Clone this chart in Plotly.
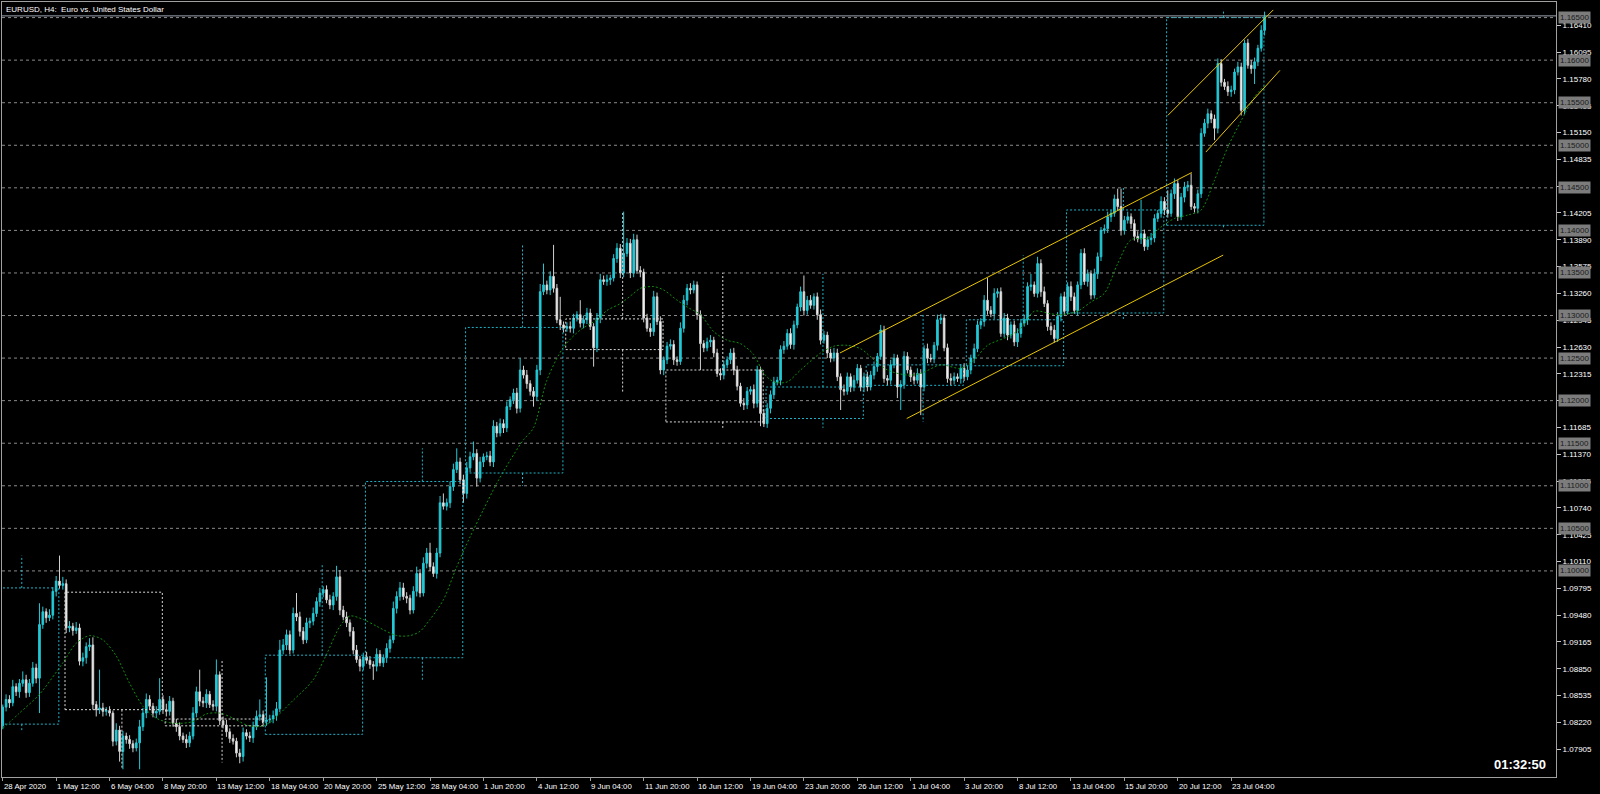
import plotly.graph_objects as go

# ---------------- DATA (prices in pips, i.e. price * 10000) ----------------
first_open_pips = 10818
closes_pips = [
    10840, 10849, 10845, 10864, 10858, 10868, 10872, 10857, 10868, 10886,
    10874, 10937, 10952, 10945, 10948, 10976, 10988, 10983, 10985, 10933,
    10935, 10930, 10933, 10894, 10898, 10911, 10913, 10843, 10837, 10839,
    10835, 10836, 10833, 10800, 10813, 10788, 10806, 10802, 10797, 10792,
    10798, 10817, 10833, 10849, 10841, 10833, 10835, 10849, 10837, 10835,
    10847, 10821, 10817, 10806, 10802, 10798, 10806, 10833, 10858, 10847,
    10845, 10855, 10843, 10841, 10878, 10824, 10819, 10811, 10803, 10800,
    10786, 10782, 10810, 10806, 10804, 10817, 10829, 10831, 10823, 10825,
    10826, 10830, 10838, 10907, 10913, 10925, 10907, 10950, 10946, 10929,
    10919, 10939, 10941, 10950, 10964, 10974, 10978, 10966, 10960, 10970,
    10993, 10954, 10946, 10939, 10929, 10907, 10896, 10888, 10899, 10895,
    10890, 10888, 10902, 10892, 10898, 10909, 10919, 10956, 10970, 10980,
    10970, 10968, 10954, 10976, 10997, 10974, 11009, 11021, 11005, 10997,
    11021, 11080, 11076, 11080, 11099, 11119, 11128, 11107, 11091, 11121,
    11134, 11138, 11109, 11128, 11134, 11135, 11128, 11170, 11162, 11173,
    11168, 11193, 11201, 11209, 11191, 11236, 11230, 11220, 11211, 11205,
    11236, 11328, 11336, 11330, 11346, 11332, 11295, 11289, 11285, 11287,
    11285, 11297, 11301, 11291, 11295, 11303, 11287, 11262, 11297, 11342,
    11340, 11342, 11344, 11367, 11379, 11350, 11373, 11385, 11350, 11389,
    11353, 11351, 11297, 11285, 11281, 11322, 11293, 11236, 11248, 11264,
    11266, 11248, 11246, 11285, 11318, 11332, 11330, 11336, 11301, 11267,
    11262, 11269, 11271, 11256, 11232, 11230, 11242, 11248, 11256, 11236,
    11217, 11197, 11195, 11211, 11213, 11197, 11236, 11185, 11173, 11191,
    11207, 11222, 11224, 11260, 11264, 11279, 11266, 11289, 11310, 11328,
    11306, 11318, 11312, 11322, 11301, 11271, 11277, 11256, 11250, 11256,
    11228, 11213, 11211, 11228, 11216, 11224, 11238, 11216, 11228, 11216,
    11230, 11240, 11252, 11283, 11226, 11224, 11242, 11250, 11216, 11219,
    11252, 11236, 11228, 11224, 11232, 11216, 11261, 11250, 11249, 11265,
    11295, 11297, 11262, 11226, 11224, 11228, 11226, 11238, 11228, 11236,
    11250, 11261, 11289, 11293, 11318, 11306, 11302, 11326, 11328, 11279,
    11297, 11277, 11289, 11269, 11279, 11291, 11295, 11334, 11336, 11326,
    11361, 11328, 11314, 11287, 11283, 11273, 11299, 11322, 11305, 11334,
    11322, 11306, 11336, 11373, 11340, 11349, 11324, 11349, 11369, 11400,
    11402, 11416, 11420, 11437, 11428, 11400, 11412, 11416, 11408, 11393,
    11390, 11396, 11381, 11389, 11391, 11414, 11420, 11434, 11424, 11420,
    11443, 11455, 11416, 11439, 11451, 11453, 11428, 11426, 11443, 11514,
    11526, 11537, 11531, 11520, 11596, 11574, 11569, 11563, 11565, 11586,
    11592, 11541, 11620, 11594, 11590, 11598, 11614, 11635, 11651,
]
upper_wick_pips = [
    3, 6, 5, 8, 4, 5, 10, 6, 5, 7,
    5, 25, 6, 4, 7, 5, 6, 30, 8, 5,
    6, 4, 7, 5, 6, 5, 8, 9, 4, 45,
    6, 4, 5, 3, 8, 5, 6, 4, 5, 4,
    5, 8, 6, 7, 5, 4, 6, 25, 5, 7,
    6, 4, 5, 5, 4, 6, 5, 7, 6, 26,
    5, 6, 4, 5, 18, 4, 5, 6, 4, 5,
    4, 5, 6, 4, 5, 6, 7, 18, 5, 50,
    5, 6, 8, 12, 7, 6, 5, 7, 24, 6,
    5, 6, 4, 7, 5, 6, 4, 5, 6, 5,
    13, 8, 5, 6, 4, 5, 6, 4, 5, 6,
    5, 4, 7, 5, 4, 6, 5, 8, 6, 7,
    6, 5, 4, 6, 8, 5, 7, 6, 12, 5,
    6, 8, 11, 5, 6, 7, 16, 5, 6, 7,
    6, 14, 5, 6, 4, 5, 6, 7, 5, 6,
    5, 6, 4, 5, 6, 14, 5, 6, 4, 5,
    6, 9, 25, 5, 6, 37, 5, 27, 4, 5,
    6, 5, 4, 17, 5, 6, 5, 4, 6, 7,
    5, 6, 4, 5, 6, 5, 49, 6, 5, 7,
    6, 5, 4, 5, 6, 7, 5, 6, 4, 5,
    6, 5, 4, 7, 6, 5, 6, 5, 4, 5,
    4, 5, 6, 4, 5, 6, 5, 4, 5, 6,
    5, 4, 6, 5, 4, 6, 5, 4, 5, 6,
    5, 6, 4, 5, 6, 5, 6, 5, 4, 6,
    19, 5, 6, 4, 5, 6, 5, 4, 5, 6,
    5, 4, 6, 5, 4, 6, 5, 4, 5, 6,
    5, 6, 4, 6, 5, 4, 6, 5, 4, 5,
    6, 5, 4, 5, 6, 5, 4, 6, 5, 4,
    6, 5, 4, 5, 6, 5, 4, 5, 6, 5,
    4, 6, 5, 4, 6, 26, 5, 6, 4, 5,
    6, 5, 4, 5, 6, 5, 6, 5, 13, 4,
    8, 5, 6, 4, 5, 6, 5, 4, 6, 5,
    6, 5, 4, 5, 6, 5, 4, 6, 5, 4,
    5, 6, 4, 5, 12, 21, 5, 6, 4, 5,
    6, 40, 5, 4, 6, 5, 4, 6, 5, 23,
    5, 6, 4, 5, 6, 5, 14, 4, 5, 6,
    5, 6, 4, 5, 6, 5, 4, 6, 5, 4,
    6, 5, 4, 5, 6, 5, 4, 6, 6,
]
lower_wick_pips = [
    4, 5, 6, 4, 5, 7, 4, 6, 5, 4,
    6, 41, 5, 6, 4, 5, 6, 4, 5, 6,
    5, 6, 4, 5, 6, 7, 5, 6, 8, 5,
    6, 5, 4, 6, 5, 12, 21, 5, 6, 5,
    4, 31, 5, 6, 4, 5, 6, 4, 5, 6,
    5, 4, 6, 5, 4, 6, 5, 4, 5, 6,
    5, 6, 4, 5, 6, 5, 4, 6, 5, 4,
    5, 8, 6, 4, 5, 6, 4, 5, 6, 5,
    4, 5, 6, 4, 5, 6, 5, 4, 5, 6,
    5, 4, 6, 5, 4, 6, 5, 4, 5, 6,
    5, 6, 4, 5, 6, 5, 4, 6, 5, 4,
    5, 16, 6, 4, 5, 6, 5, 4, 6, 5,
    4, 6, 5, 4, 6, 5, 4, 6, 5, 4,
    6, 5, 4, 5, 6, 5, 4, 5, 11, 6,
    5, 4, 10, 5, 6, 4, 5, 6, 5, 4,
    6, 5, 4, 5, 6, 5, 4, 6, 5, 12,
    5, 6, 4, 5, 6, 5, 4, 6, 5, 4,
    5, 6, 4, 5, 6, 5, 4, 22, 5, 6,
    4, 5, 6, 4, 5, 6, 5, 4, 6, 5,
    4, 6, 5, 4, 6, 5, 4, 5, 6, 5,
    4, 6, 5, 4, 5, 6, 5, 4, 6, 31,
    5, 4, 6, 5, 4, 6, 5, 4, 5, 6,
    5, 4, 6, 5, 4, 6, 5, 15, 4, 5,
    6, 5, 4, 6, 5, 4, 5, 6, 4, 5,
    6, 5, 4, 5, 6, 5, 4, 6, 5, 4,
    5, 24, 5, 4, 6, 5, 4, 5, 6, 5,
    4, 5, 6, 4, 5, 6, 5, 4, 13, 27,
    5, 4, 6, 5, 4, 33, 5, 6, 4, 5,
    6, 5, 4, 5, 6, 5, 4, 6, 5, 4,
    5, 6, 4, 5, 6, 5, 4, 6, 5, 4,
    5, 6, 4, 5, 6, 5, 4, 6, 5, 4,
    5, 6, 4, 5, 6, 5, 4, 6, 5, 4,
    5, 4, 6, 5, 4, 6, 5, 4, 6, 5,
    4, 5, 6, 4, 5, 6, 5, 4, 6, 5,
    4, 6, 5, 4, 6, 5, 4, 5, 6, 5,
    4, 6, 5, 4, 6, 5, 4, 5, 6, 5,
    4, 6, 5, 14, 6, 5, 4, 5, 6, 5,
    4, 6, 5, 4, 6, 18, 5, 4, 6,
]

# moving average (read at sample bars)
ma_bar = [0, 5, 11, 18, 22, 26, 30, 34, 38, 42, 46, 51, 57, 61, 65, 69, 73, 77, 80, 87,
          93, 97, 101, 104, 108, 112, 118, 122, 125, 128, 132, 136, 140, 144, 148, 152, 156, 159, 163, 168,
          173, 178, 181, 185, 189, 191, 195, 198, 202, 205, 209, 213, 217, 221, 225, 228, 231, 235, 239, 245,
          249, 253, 257, 261, 265, 271, 275, 281, 287, 291, 295, 301, 305, 309, 314, 317, 322, 326, 330, 334,
          338, 343, 347, 351, 355, 359, 363, 367, 371, 375, 378]
ma_pips = [10815, 10833, 10855, 10892, 10915, 10924, 10919, 10900, 10868, 10841, 10827, 10821, 10823, 10832, 10833, 10827, 10819, 10817, 10822, 10848,
           10872, 10902, 10935, 10947, 10943, 10935, 10924, 10924, 10929, 10943, 10966, 11005, 11040, 11072, 11103, 11130, 11154, 11168, 11224, 11263,
           11283, 11295, 11306, 11314, 11326, 11332, 11334, 11330, 11318, 11310, 11301, 11281, 11271, 11267, 11254, 11232, 11222, 11222, 11236, 11256,
           11264, 11265, 11261, 11248, 11236, 11230, 11232, 11242, 11238, 11248, 11265, 11275, 11285, 11305, 11302, 11301, 11305, 11316, 11326, 11361,
           11389, 11391, 11404, 11414, 11418, 11424, 11459, 11498, 11529, 11557, 11570]

# weekly (higher time-frame) candles drawn as dotted boxes
week_first_bar = [-11, 19, 49, 79, 109, 139, 169, 199, 229, 259, 289, 319, 349]
week_last_bar = [17, 48, 78, 108, 138, 168, 198, 228, 258, 288, 318, 348, 378]
week_open = [10820, 10975, 10826, 10808, 10898, 11115, 11296, 11236, 11179, 11218, 11241, 11303, 11406]
week_close = [10980, 10837, 10818, 10901, 11105, 11286, 11260, 11175, 11216, 11242, 11295, 11424, 11650]
week_high = [11018, 10975, 10896, 11007, 11144, 11383, 11422, 11350, 11349, 11301, 11371, 11450, 11657]
week_low = [10811, 10767, 10775, 10808, 10870, 11100, 11210, 11168, 11168, 11175, 11241, 11295, 11403]

# trend channel lines: (bar0, price0, bar1, price1)
channel_bar0 = [250.8, 270.8, 349.0, 360.4]
channel_p0 = [11256, 11179, 11535, 11492]
channel_bar1 = [356.2, 365.6, 380.6, 382.6]
channel_p1 = [11468, 11371, 11659, 11588]

level_prices = [1.10000, 1.10500, 1.11000, 1.11500, 1.12000, 1.12500, 1.13000,
                1.13500, 1.14000, 1.14500, 1.15000, 1.15500, 1.16000, 1.16500]
bid_price = 1.16520

y_ticks = [1.07905, 1.08220, 1.08535, 1.08850, 1.09165, 1.09480, 1.09795, 1.10110,
           1.10425, 1.10740, 1.11055, 1.11370, 1.11685, 1.12000, 1.12315, 1.12630,
           1.12945, 1.13260, 1.13575, 1.13890, 1.14205, 1.14520, 1.14835, 1.15150,
           1.15465, 1.15780, 1.16095, 1.16410]
# scale ticks whose label sits entirely under a price-level box in the reference
y_ticks_hidden = [1.12000, 1.14520]

x_tick_bar = [0, 16, 32, 48, 64, 80, 96, 112, 128, 144, 160, 176, 192, 208, 224, 240,
              256, 272, 288, 304, 320, 336, 352, 368]
x_tick_text = ["28 Apr 2020", "1 May 12:00", "6 May 04:00", "8 May 20:00", "13 May 12:00",
               "18 May 04:00", "20 May 20:00", "25 May 12:00", "28 May 04:00", "1 Jun 20:00",
               "4 Jun 12:00", "9 Jun 04:00", "11 Jun 20:00", "16 Jun 12:00", "19 Jun 04:00",
               "23 Jun 20:00", "26 Jun 12:00", "1 Jul 04:00", "3 Jul 20:00", "8 Jul 12:00",
               "13 Jul 04:00", "15 Jul 20:00", "20 Jul 12:00", "23 Jul 04:00"]

title_text = "EURUSD, H4:\u00a0 Euro vs. United States Dollar"
timer_text = "01:32:50"

# ---------------- BUILD ----------------
assert len(closes_pips) == len(upper_wick_pips) == len(lower_wick_pips), (
    len(closes_pips), len(upper_wick_pips), len(lower_wick_pips))
assert len(ma_bar) == len(ma_pips)

PIP = 1e-4
n = len(closes_pips)
bars = list(range(n))
opens_pips = [first_open_pips] + closes_pips[:-1]
o = [v * PIP for v in opens_pips]
c = [v * PIP for v in closes_pips]
h = [(max(a, b) + u) * PIP for a, b, u in zip(opens_pips, closes_pips, upper_wick_pips)]
l = [(min(a, b) - w) * PIP for a, b, w in zip(opens_pips, closes_pips, lower_wick_pips)]

BG = "#000000"
BULL = "#23c9d6"
BEAR = "#ffffff"
BOX_BULL = "#1fb3c8"
BOX_BEAR = "#d8d8d8"
AXIS = "#a0a0a0"
FONT = "Liberation Sans"

fig = go.Figure()

# horizontal price level lines
for lv in level_prices:
    fig.add_shape(type="line", xref="paper", x0=0, x1=1, yref="y", y0=lv, y1=lv,
                  line=dict(color="#8a8a8a", width=1, dash="3px,3px"), layer="below")
fig.add_shape(type="line", xref="paper", x0=0, x1=1, yref="y", y0=bid_price, y1=bid_price,
              line=dict(color="#9aa4b0", width=1), layer="below")

fig.add_trace(go.Candlestick(
    x=bars, open=o, high=h, low=l, close=c,
    increasing=dict(line=dict(color=BULL, width=1), fillcolor=BULL),
    decreasing=dict(line=dict(color="#d0d0d0", width=1), fillcolor=BEAR),
    whiskerwidth=0, showlegend=False, hoverinfo="skip"))

fig.add_trace(go.Scatter(
    x=ma_bar, y=[v * PIP for v in ma_pips], mode="lines",
    line=dict(color="#0e900e", width=1, dash="2px,2px", shape="spline", smoothing=0.8),
    showlegend=False, hoverinfo="skip"))

# weekly boxes
for fb, lb, wo, wc, wh, wl in zip(week_first_bar, week_last_bar, week_open, week_close, week_high, week_low):
    col = BOX_BULL if wc >= wo else BOX_BEAR
    top, bot = max(wo, wc) * PIP, min(wo, wc) * PIP
    fig.add_shape(type="rect", xref="x", yref="y", x0=fb - 0.35, x1=lb - 0.2, y0=bot, y1=top,
                  line=dict(color=col, width=1, dash="2px,2px"), fillcolor="rgba(0,0,0,0)")
    wx = fb + 16.7
    if wh * PIP > top:
        fig.add_shape(type="line", xref="x", yref="y", x0=wx, x1=wx, y0=top, y1=wh * PIP,
                      line=dict(color=col, width=1, dash="2px,2px"))
    if wl * PIP < bot:
        fig.add_shape(type="line", xref="x", yref="y", x0=wx, x1=wx, y0=bot, y1=wl * PIP,
                      line=dict(color=col, width=1, dash="2px,2px"))

# channel lines
for b0, p0, b1, p1 in zip(channel_bar0, channel_p0, channel_bar1, channel_p1):
    fig.add_shape(type="line", xref="x", yref="y", x0=b0, y0=p0 * PIP, x1=b1, y1=p1 * PIP,
                  line=dict(color="#e8c400", width=1))

ann = []
for tb, tt in zip(x_tick_bar, x_tick_text):
    ann.append(dict(x=tb, xref="x", y=0, yref="paper", yshift=-9, yanchor="middle",
                    xanchor="left", xshift=-1, text=tt, showarrow=False,
                    font=dict(family=FONT, size=7.8, color="#ffffff")))
for lv in level_prices:
    ann.append(dict(x=1, xref="paper", xanchor="left", xshift=2, y=lv, yref="y", yanchor="middle",
                    text=f"{lv:.5f}", showarrow=False, bgcolor="#7c7c7c", borderpad=1,
                    font=dict(family=FONT, size=8, color="#1a1a1a")))
ann.append(dict(x=0, xref="paper", xanchor="left", xshift=2, y=1, yref="paper", yanchor="top",
                yshift=-1, text=title_text, showarrow=False,
                font=dict(family=FONT, size=8, color="#ffffff")))
ann.append(dict(x=1, xref="paper", xanchor="right", xshift=-8, y=0, yref="paper", yanchor="middle",
                yshift=13, text=f"<b>{timer_text}</b>", showarrow=False,
                font=dict(family=FONT, size=13, color="#ffffff")))

fig.update_layout(
    width=1600, height=794, autosize=False,
    margin=dict(l=2, r=44, t=2, b=17, pad=0),
    paper_bgcolor=BG, plot_bgcolor=BG, showlegend=False,
    annotations=ann,
    xaxis=dict(range=[-0.225, 465.3], showgrid=False, zeroline=False,
               rangeslider=dict(visible=False), showline=True, linecolor=AXIS, linewidth=1,
               mirror=True, ticks="outside", ticklen=3, tickcolor=AXIS, tickvals=x_tick_bar,
               showticklabels=False, fixedrange=True),
    yaxis=dict(side="right", range=[1.07579, 1.16683], showgrid=False, zeroline=False,
               showline=True, linecolor=AXIS, linewidth=1, mirror=True, ticks="outside",
               ticklen=4, tickcolor="#c8c8c8", tickvals=y_ticks,
               ticktext=["" if v in y_ticks_hidden else f"{v:.5f}" for v in y_ticks],
               tickfont=dict(family=FONT, size=8, color="#ffffff"), fixedrange=True),
)

fig.write_html("out.html", config={"displayModeBar": False},
               post_script="document.body.style.margin='0';document.body.style.background='#000';")
